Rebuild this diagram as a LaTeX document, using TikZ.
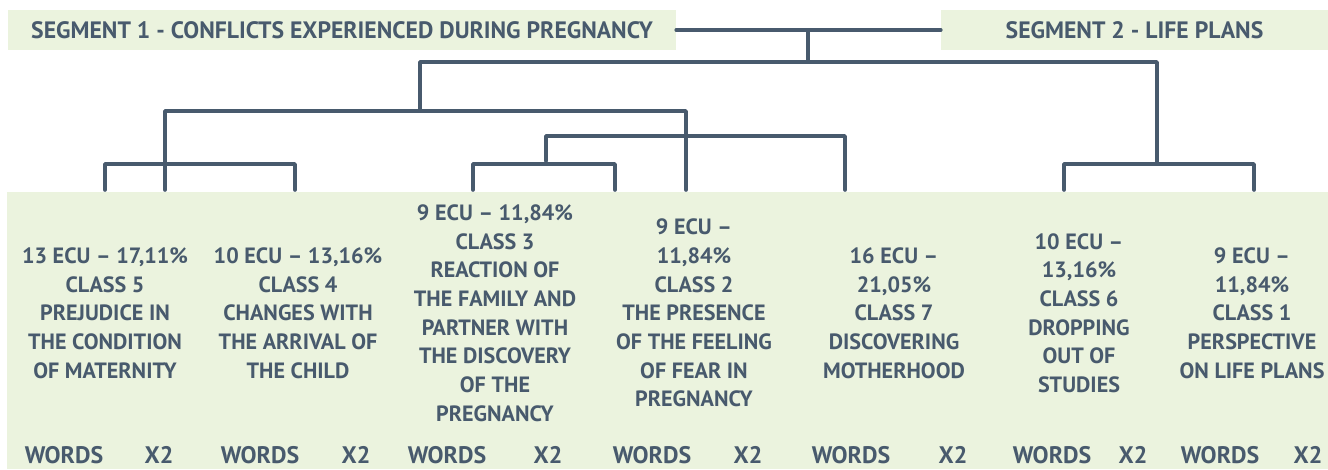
\documentclass[tikz,border=0pt]{standalone}
\usepackage{fontspec}
\setmainfont{PT Sans}
\definecolor{inkslate}{HTML}{485A6D}
\definecolor{paleleaf}{HTML}{EBF3DE}
\tikzset{
  link/.style={draw=inkslate, line width=3.6bp, line cap=round, line join=round},
  seghead/.style={fill=paleleaf, text=inkslate, inner sep=0pt, minimum height=40bp,
    font=\bfseries\fontsize{23.8}{27}\selectfont},
  classtxt/.style={text=inkslate, align=center, inner sep=0pt,
    font=\bfseries\fontsize{22.2}{28.8}\selectfont},
  foot/.style={text=inkslate, inner sep=0pt, font=\bfseries\fontsize{24}{27}\selectfont}
}
\begin{document}
\begin{tikzpicture}[x=1bp, y=1bp]
\useasboundingbox (0,0) rectangle (1328,470);

% bands
\fill[paleleaf] (7,1) rectangle (1328,278);
\node[seghead, minimum width=668bp] (seg1) at (342,440) {SEGMENT 1 - CONFLICTS EXPERIENCED DURING PREGNANCY};
\node[seghead, minimum width=387bp] (seg2) at (1134.5,440) {SEGMENT 2 - LIFE PLANS};

% classes
\node[classtxt] (c5) at (105,157) {13 ECU -- 17,11\%\\CLASS 5\\PREJUDICE IN\\THE CONDITION\\OF MATERNITY};
\node[classtxt] (c4) at (298,157) {10 ECU -- 13,16\%\\CLASS 4\\CHANGES WITH\\THE ARRIVAL OF\\THE CHILD};
\node[classtxt] (c3) at (495,157) {9 ECU -- 11,84\%\\CLASS 3\\REACTION OF\\THE FAMILY AND\\PARTNER WITH\\THE DISCOVERY\\OF THE\\PREGNANCY};
\node[classtxt] (c2) at (694,157) {9 ECU --\\11,84\%\\CLASS 2\\THE PRESENCE\\OF THE FEELING\\OF FEAR IN\\PREGNANCY};
\node[classtxt] (c7) at (894,157) {16 ECU --\\21,05\%\\CLASS 7\\DISCOVERING\\MOTHERHOOD};
\node[classtxt] (c6) at (1079,157) {10 ECU --\\13,16\%\\CLASS 6\\DROPPING\\OUT OF\\STUDIES};
\node[classtxt] (c1) at (1252,157) {9 ECU --\\11,84\%\\CLASS 1\\PERSPECTIVE\\ON LIFE PLANS};

% words / chi2 row
\foreach \i/\wx/\xx in {1/64/159, 2/260/356, 3/447/548, 4/652/748, 5/851/953, 6/1052/1133, 7/1220/1308}{
  \node[foot] (w\i) at (\wx,15) {WORDS};
  \node[foot] (x\i) at (\xx,15) {X2};
}

% dendrogram
\foreach \n/\x in {a/105, b/165, c/295, d/473, e/615, f/686, g/845, h/1064, i/1254}
  \coordinate (leg\n) at (\x,280);
\coordinate (root) at (808,408);
\coordinate (left) at (420,359);
\coordinate (right) at (1157,308);
\coordinate (mid) at (546,309);

\draw[link] (seg1.east) -- (seg2.west);
\draw[link] (root |- seg1.east) -- (root);
\draw[link] (left) |- (root) -| (right);
\draw[link] (legb) |- (left) -| (legf);
\draw[link] (lega) |- (legb |- 0,306) -| (legc);
\draw[link] (mid) |- (700,334) -| (legg);
\draw[link] (legd) |- (mid |- 0,306) -| (lege);
\draw[link] (legh) |- (right |- 0,306) -| (legi);
\end{tikzpicture}
\end{document}
